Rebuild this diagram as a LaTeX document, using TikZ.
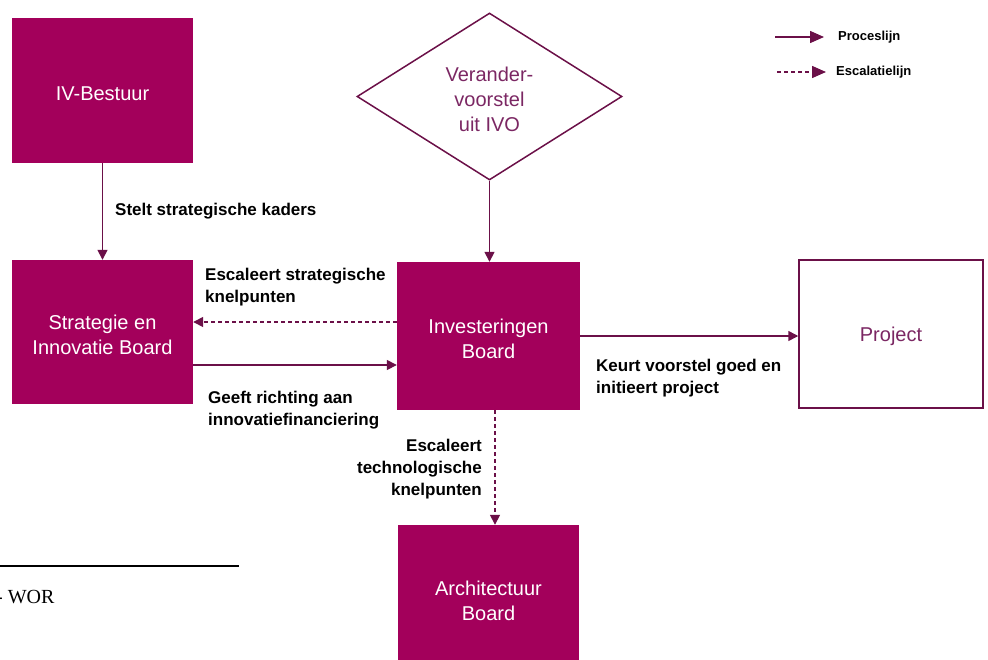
\documentclass[tikz,border=0pt]{standalone}
\usepackage{fontspec}
\setmainfont{Liberation Sans}
\newfontfamily\voetfont{Liberation Serif}
\usepackage{xcolor}
\usepackage{tikz}
\usetikzlibrary{calc}
\usetikzlibrary{arrows.meta,shapes.geometric}

\definecolor{paars}{HTML}{A3005B}
\definecolor{lijnpaars}{HTML}{6B1048}
\definecolor{tekstpaars}{HTML}{7B2763}

\newcommand{\zakrule}{\rule{0pt}{19.5pt}}

\begin{document}
\begin{tikzpicture}
    [
        x=1pt, y=-1pt,
        blok/.style={fill=paars, text=white, inner sep=0pt, align=center,
            font=\fontsize{20}{25}\selectfont},
        open blok/.style={draw=lijnpaars, line width=1.5pt, fill=white, text=tekstpaars,
            inner sep=0pt, align=center, text depth=0pt, font=\fontsize{20}{25}\selectfont},
        proces/.style={lijnpaars, line width=1.5pt, -{Triangle[length=10pt,width=10pt]}},
        escalatie/.style={proces, dashed, dash pattern=on 4pt off 3pt},
        label/.style={inner sep=0pt, text=black, font=\fontsize{17}{22}\selectfont\bfseries},
        legenda/.style={inner sep=0pt, text=black, font=\fontsize{13}{15}\selectfont\bfseries}
    ]
        \useasboundingbox (0,0) rectangle (988,659);

        %BLOKKEN
        \node[blok, minimum width=181pt, minimum height=145pt] (bestuur) at (102.5,90.5) {\zakrule IV-Bestuur};
        \node[blok, minimum width=181pt, minimum height=144pt] (strategie) at (102.5,332) {\zakrule Strategie en\\Innovatie Board};
        \node[blok, minimum width=183pt, minimum height=148pt] (invest) at (488.5,336) {\zakrule Investeringen\\Board};
        \node[blok, minimum width=181pt, minimum height=146pt] (architectuur) at (488.5,598) {\zakrule Architectuur\\Board};
        \node[open blok, minimum width=184pt, minimum height=148pt] (project) at (891,334) {Project};

        %RUIT
        \node[diamond, draw=lijnpaars, line width=1.5pt, text=tekstpaars, inner sep=0pt,
            minimum width=265pt, minimum height=167pt, align=center,
            font=\fontsize{20}{25}\selectfont] (voorstel) at (489.5,96.5) {\zakrule Verander-\\voorstel\\uit IVO};

        %PIJLEN
        \draw[proces] (bestuur.south) -- (strategie.north);
        \draw[escalatie] (invest.west |- 0,322) -- (strategie.east |- 0,322);
        \draw[proces] (strategie.east |- 0,365) -- (invest.west |- 0,365);
        \draw[proces] (voorstel.south) -- (voorstel.south |- invest.north);
        \draw[proces] (invest.east) -- (project.west |- invest.east);
        \draw[escalatie] (invest.south -| 495,0) -- (architectuur.north -| 495,0);

        %LABELS
        \node[label, anchor=west] (kaders) at (115,211) {Stelt strategische kaders};
        \node[label, anchor=west, align=left] (knelpunten) at (205,287) {Escaleert strategische\\knelpunten};
        \node[label, anchor=west, align=left] (richting) at (208,410) {Geeft richting aan\\innovatiefinanciering};
        \node[label, anchor=west, align=left] (keurt) at (596,378) {Keurt voorstel goed en\\initieert project};
        \node[label, anchor=east, align=right] (techniek) at (482,469) {Escaleert\\technologische\\knelpunten};

        %LEGENDA
        \node[legenda, anchor=west] (proceslijn) at (838,37) {Proceslijn};
        \node[legenda, anchor=west] (escalatielijn) at (836,72) {Escalatielijn};
        \coordinate (proces begin) at (775,37);
        \coordinate (escalatie begin) at (777,72);
        \draw[proces, -{Triangle[length=14pt,width=12pt]}] (proces begin) -- ([xshift=-14pt]proceslijn.west);
        \draw[escalatie, -{Triangle[length=14pt,width=12pt]}] (escalatie begin) -- ([xshift=-10pt]escalatielijn.west);

        %VOETNOOT
        \draw[line width=1.5pt] (0,566) -- (239,566);
        \node[inner sep=0pt, anchor=west, font=\voetfont\fontsize{20}{24}\selectfont] (voetnoot) at (-4,597) {- WOR};
    \end{tikzpicture}
\end{document}
